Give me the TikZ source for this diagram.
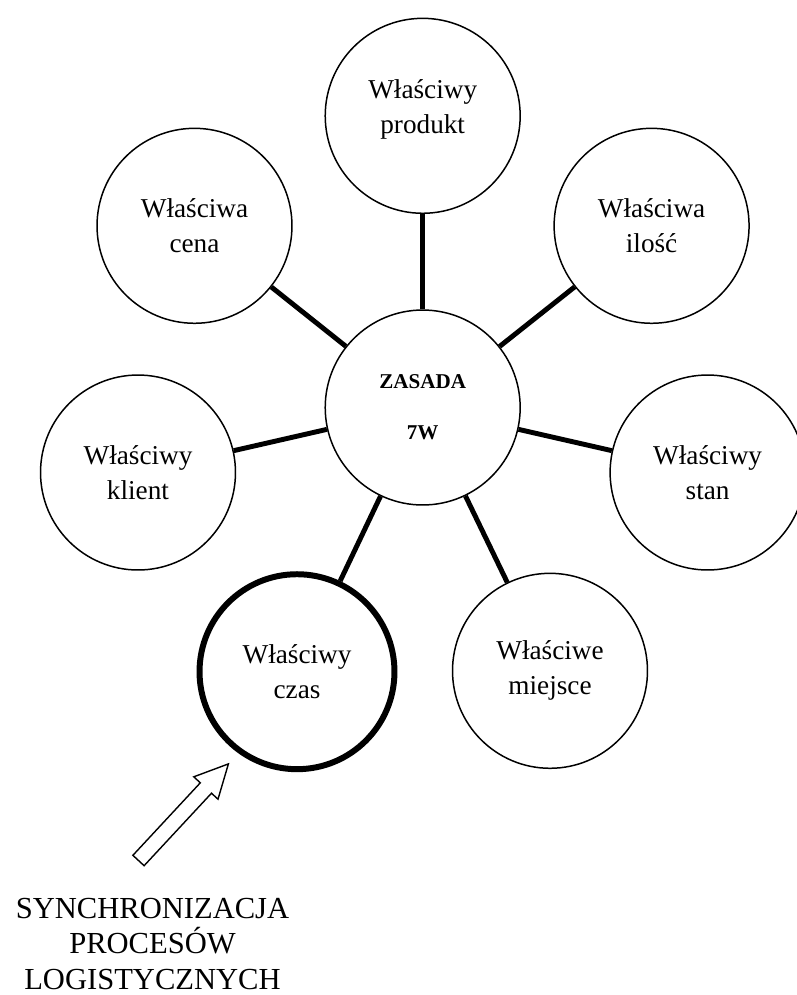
\documentclass[tikz,border=0pt]{standalone}
\usepackage{fontspec}
\setmainfont{Liberation Serif}
\usetikzlibrary{positioning}

\tikzset{
  wcirc/.style={circle, draw, line width=0.85pt, minimum size=3.9cm, inner sep=0pt,
    align=center, font=\fontsize{15.5}{19.9}\selectfont},
  hubcirc/.style={wcirc, font=\bfseries\fontsize{12}{29}\selectfont},
  spoke/.style={line width=2.8pt},
}

\begin{document}
\begin{tikzpicture}[x=0.02cm, y=-0.02cm]
  \useasboundingbox (0,0) rectangle (797,995);
  % centre and the seven rules
  \node[hubcirc] (hub) at (422.7,407.5) {ZASADA\\7W};
  \node[wcirc, text depth=0.38cm] (prod) at (422.7,115.8) {Właściwy\\produkt};
  \node[wcirc] (cena) at (194.5,225.8) {Właściwa\\cena};
  \node[wcirc] (ilosc) at (651.6,225.8) {Właściwa\\ilość};
  \node[wcirc] (klient) at (138.0,472.5) {Właściwy\\klient};
  \node[wcirc] (stan) at (707.6,472.5) {Właściwy\\stan};
  \node[wcirc, line width=3.4pt] (czas) at (297.0,671.7) {Właściwy\\czas};
  \node[wcirc] (miejsce) at (550.0,670.8) {Właściwe\\miejsce};
  % spokes
  \draw[spoke] (hub) -- (prod);
  \draw[spoke] (hub) -- (cena);
  \draw[spoke] (hub) -- (ilosc);
  \draw[spoke] (hub) -- (klient);
  \draw[spoke] (hub) -- (stan);
  \draw[spoke] (hub) -- (czas);
  \draw[spoke] (hub) -- (miejsce);
  % block arrow and caption
  \draw[line width=0.8pt, fill=white, line join=miter]
    (132.9,855.3) -- (200.3,782.8) -- (193.8,776.8) -- (228.4,763.9)
    -- (218.0,799.2) -- (211.5,793.2) -- (144.1,865.7) -- cycle;
  \node[align=center, font=\fontsize{17.4}{20}\selectfont] (sync) at (152.5,944)
    {SYNCHRONIZACJA\\PROCESÓW\\LOGISTYCZNYCH};
\end{tikzpicture}
\end{document}
